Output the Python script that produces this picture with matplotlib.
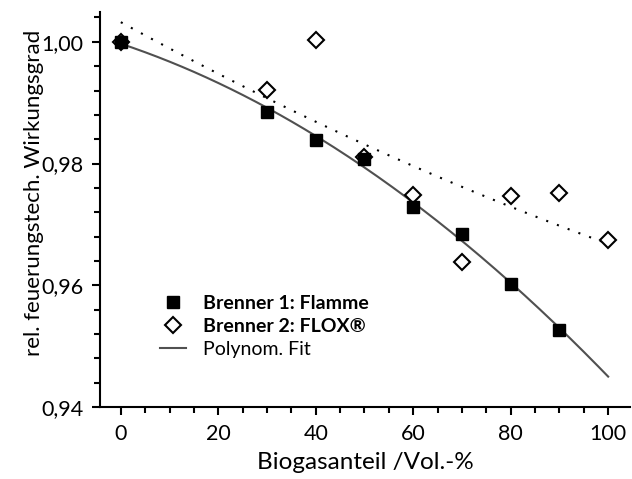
import numpy as np
import matplotlib.pyplot as plt
from matplotlib.ticker import MultipleLocator, FuncFormatter

plt.rcParams['font.family'] = ['Lato', 'DejaVu Sans']

# Biogasanteil /Vol.-%
x_b1 = [0, 30, 40, 50, 60, 70, 80, 90]
y_b1 = [1.000, 0.9884, 0.9839, 0.9807, 0.9728, 0.9684, 0.9603, 0.9526]

x_b2 = [0, 30, 40, 50, 60, 70, 80, 90, 100]
y_b2 = [1.000, 0.9921, 1.0003, 0.9811, 0.9748, 0.9638, 0.9746, 0.9752, 0.9674]

# polynomial fits (2nd order) of both series
fit_b1 = np.polyfit(x_b1, y_b1, 2)
fit_b2 = np.polyfit(x_b2, y_b2, 2)
xf = np.linspace(0, 100, 200)

fig = plt.figure(figsize=[6.32, 4.79], dpi=100)
ax = fig.add_axes([0.158, 0.150, 0.839, 0.825])

ax.plot(xf, np.polyval(fit_b2, xf), color='black', linestyle=(0, (1, 4.5)), linewidth=1.5)
ax.plot(xf, np.polyval(fit_b1, xf), color='#505050', linewidth=1.5)
h2, = ax.plot(x_b2, y_b2, 'D', markersize=8, markerfacecolor='white',
              markeredgecolor='black', markeredgewidth=1.5, linestyle='none')
h1, = ax.plot(x_b1, y_b1, 's', markersize=8.5, color='black', linestyle='none')
hf, = ax.plot([], [], color='#505050', linewidth=1.5)

ax.set_xlim(-4.3, 104.5)
ax.set_ylim(0.94, 1.0049)
ax.xaxis.set_major_locator(MultipleLocator(20))
ax.xaxis.set_minor_locator(MultipleLocator(5))
ax.yaxis.set_major_locator(MultipleLocator(0.02))
ax.yaxis.set_minor_locator(MultipleLocator(0.004))
ax.yaxis.set_major_formatter(FuncFormatter(lambda v, p: f'{v:.2f}'.replace('.', ',')))

for s in ['top', 'right']:
    ax.spines[s].set_visible(False)
for s in ['left', 'bottom']:
    ax.spines[s].set_linewidth(1.5)
ax.tick_params(which='major', length=6, width=1.5, labelsize=15.5)
ax.tick_params(which='minor', length=4, width=1.5)
ax.tick_params(axis='x', which='major', pad=6)
ax.tick_params(axis='y', which='major', pad=6)

ax.set_xlabel('Biogasanteil /Vol.-%', fontsize=17.5)
ax.set_ylabel('rel. feuerungstech. Wirkungsgrad', fontsize=16)
ax.xaxis.set_label_coords(0.5, -0.113)
ax.yaxis.set_label_coords(-0.106, 0.542)

leg = ax.legend([h1, h2, hf], ['Brenner 1: Flamme', 'Brenner 2: FLOX®', 'Polynom. Fit'],
                loc='upper left', bbox_to_anchor=(0.081, 0.328), frameon=False,
                fontsize=14, handlelength=1.3, handletextpad=0.9, labelspacing=0.31)
for t in leg.get_texts()[:2]:
    t.set_fontweight('bold')

plt.savefig('out.png', dpi=100)
